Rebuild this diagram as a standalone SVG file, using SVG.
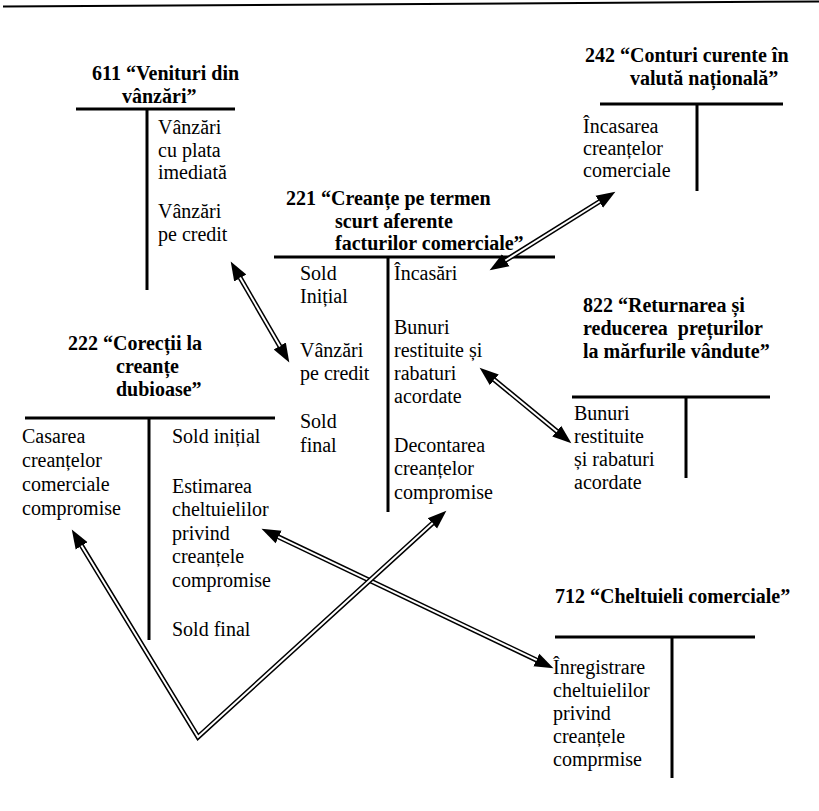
<svg xmlns="http://www.w3.org/2000/svg" width="819" height="811" viewBox="0 0 819 811">
  <style>
    .title { font-family: "Liberation Serif", "Times New Roman", serif; font-size: 20px; font-weight: bold; fill: #000; }
    .body { font-family: "Liberation Serif", "Times New Roman", serif; font-size: 20px; fill: #000; }
    .rule { stroke: #000; stroke-width: 3; fill: none; }
    .shaft { stroke: #000; stroke-width: 5; fill: none; stroke-linejoin: miter; }
    .core { stroke: #fff; stroke-width: 2; fill: none; stroke-linejoin: miter; }
  </style>
  <defs>
    <marker id="head" viewBox="0 -8 20 16" markerWidth="20" markerHeight="16" refX="0.5" refY="0" orient="auto-start-reverse" markerUnits="userSpaceOnUse">
      <path d="M0,-7 L19,0 L0,7 Z" fill="#000"/>
    </marker>
  </defs>

  <rect width="819" height="811" fill="#fff"/>

  <!-- page border at the top -->
  <line x1="3" y1="6.5" x2="819" y2="1.5" stroke="#000" stroke-width="2"/>

  <!-- account 611 -->
  <g id="acc611">
    <text class="title" x="92" y="80">611 “Venituri din</text>
    <text class="title" x="122" y="103">vânzări”</text>
    <line class="rule" x1="76" y1="109" x2="235" y2="109"/>
    <line class="rule" x1="147" y1="109" x2="147" y2="290"/>
    <text class="body" x="158" y="134">Vânzări</text>
    <text class="body" x="158" y="157">cu plata</text>
    <text class="body" x="158" y="179">imediată</text>
    <text class="body" x="158" y="218">Vânzări</text>
    <text class="body" x="158" y="241">pe credit</text>
  </g>

  <!-- account 242 -->
  <g id="acc242">
    <text class="title" x="585" y="62">242 “Conturi curente în</text>
    <text class="title" x="630" y="85">valută națională”</text>
    <line class="rule" x1="600" y1="104" x2="783" y2="104"/>
    <line class="rule" x1="697" y1="104" x2="697" y2="191"/>
    <text class="body" x="583" y="133">Încasarea</text>
    <text class="body" x="583" y="155">creanțelor</text>
    <text class="body" x="583" y="177">comerciale</text>
  </g>

  <!-- account 221 -->
  <g id="acc221">
    <text class="title" x="286" y="205">221 “Creanțe pe termen</text>
    <text class="title" x="335" y="228">scurt aferente</text>
    <text class="title" x="335" y="250">facturilor comerciale”</text>
    <line class="rule" x1="274" y1="257" x2="555" y2="257"/>
    <line class="rule" x1="388" y1="257" x2="388" y2="512"/>
    <text class="body" x="300" y="280">Sold</text>
    <text class="body" x="300" y="303">Inițial</text>
    <text class="body" x="300" y="357">Vânzări</text>
    <text class="body" x="300" y="380">pe credit</text>
    <text class="body" x="300" y="428">Sold</text>
    <text class="body" x="300" y="452">final</text>
    <text class="body" x="394" y="280">Încasări</text>
    <text class="body" x="394" y="334">Bunuri</text>
    <text class="body" x="394" y="357">restituite și</text>
    <text class="body" x="394" y="380">rabaturi</text>
    <text class="body" x="394" y="403">acordate</text>
    <text class="body" x="394" y="452">Decontarea</text>
    <text class="body" x="394" y="475">creanțelor</text>
    <text class="body" x="394" y="499">compromise</text>
  </g>

  <!-- account 822 -->
  <g id="acc822">
    <text class="title" x="583" y="312">822 “Returnarea și</text>
    <text class="title" x="583" y="335" xml:space="preserve">reducerea  prețurilor</text>
    <text class="title" x="583" y="358">la mărfurile vândute”</text>
    <line class="rule" x1="572" y1="397" x2="770" y2="397"/>
    <line class="rule" x1="686" y1="397" x2="686" y2="478"/>
    <text class="body" x="574" y="420">Bunuri</text>
    <text class="body" x="574" y="443">restituite</text>
    <text class="body" x="574" y="466">și rabaturi</text>
    <text class="body" x="574" y="489">acordate</text>
  </g>

  <!-- account 222 -->
  <g id="acc222">
    <text class="title" x="68" y="350">222 “Corecții la</text>
    <text class="title" x="116" y="373">creanțe</text>
    <text class="title" x="116" y="396">dubioase”</text>
    <line class="rule" x1="25" y1="418" x2="275" y2="418"/>
    <line class="rule" x1="149" y1="418" x2="149" y2="640"/>
    <text class="body" x="22" y="443">Casarea</text>
    <text class="body" x="22" y="467">creanțelor</text>
    <text class="body" x="22" y="491">comerciale</text>
    <text class="body" x="22" y="515">compromise</text>
    <text class="body" x="172" y="443">Sold inițial</text>
    <text class="body" x="172" y="493">Estimarea</text>
    <text class="body" x="172" y="516">cheltuielilor</text>
    <text class="body" x="172" y="540">privind</text>
    <text class="body" x="172" y="563">creanțele</text>
    <text class="body" x="172" y="587">compromise</text>
    <text class="body" x="172" y="636">Sold final</text>
  </g>

  <!-- account 712 -->
  <g id="acc712">
    <text class="title" x="555" y="603">712 “Cheltuieli comerciale”</text>
    <line class="rule" x1="555" y1="637" x2="755" y2="637"/>
    <line class="rule" x1="672" y1="637" x2="672" y2="778"/>
    <text class="body" x="553" y="674">Înregistrare</text>
    <text class="body" x="553" y="697">cheltuielilor</text>
    <text class="body" x="553" y="720">privind</text>
    <text class="body" x="553" y="743">creanțele</text>
    <text class="body" x="553" y="766">comprmise</text>
  </g>

  <!-- double-line connectors with solid heads -->
  <g id="connectors">
    <path class="shaft" d="M240,277.6 L280,346.4" marker-start="url(#head)" marker-end="url(#head)"/>
    <path class="core" d="M240,277.6 L280,346.4"/>

    <path class="shaft" d="M599.7,201.5 L505.3,260.5" marker-start="url(#head)" marker-end="url(#head)"/>
    <path class="core" d="M599.7,201.5 L505.3,260.5"/>

    <path class="shaft" d="M493.9,379.5 L557.1,431.5" marker-start="url(#head)" marker-end="url(#head)"/>
    <path class="core" d="M493.9,379.5 L557.1,431.5"/>

    <path class="shaft" d="M278.2,536.8 L536.8,660.2" marker-start="url(#head)" marker-end="url(#head)"/>
    <path class="core" d="M278.2,536.8 L536.8,660.2"/>

    <path class="shaft" d="M81.4,545.4 L198,737 L432.7,523.1" marker-start="url(#head)" marker-end="url(#head)"/>
    <path class="core" d="M81.4,545.4 L198,737 L432.7,523.1"/>
  </g>
</svg>
